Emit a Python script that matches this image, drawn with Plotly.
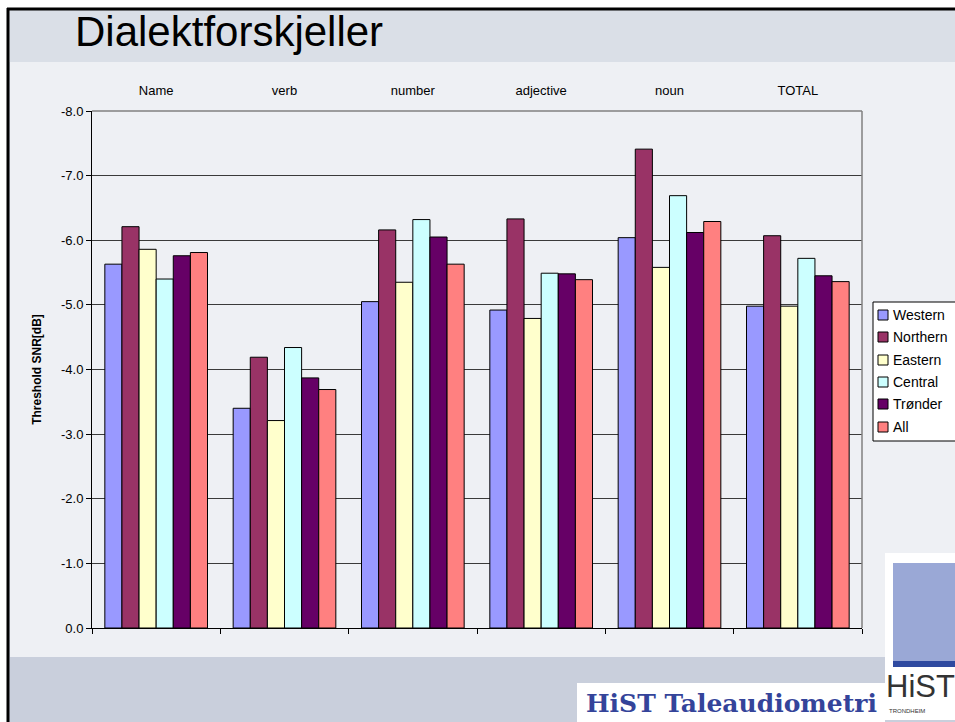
import plotly.graph_objects as go

categories = ["Name", "verb", "number", "adjective", "noun", "TOTAL"]
series_names = ["Western", "Northern", "Eastern", "Central", "Trønder", "All"]
western = [-5.63, -3.40, -5.05, -4.92, -6.04, -4.98]
northern = [-6.21, -4.19, -6.16, -6.33, -7.41, -6.07]
eastern = [-5.86, -3.21, -5.35, -4.79, -5.58, -4.98]
central = [-5.40, -4.34, -6.32, -5.49, -6.69, -5.72]
tronder = [-5.76, -3.87, -6.05, -5.48, -6.12, -5.45]
all_ = [-5.81, -3.69, -5.63, -5.39, -6.29, -5.36]
series_values = [western, northern, eastern, central, tronder, all_]
colors = ["#9999FF", "#993366", "#FFFFCC", "#CCFFFF", "#660066", "#FF8080"]
y_tickvals = [0, -1, -2, -3, -4, -5, -6, -7, -8]
y_ticktext = ["0.0", "-1.0", "-2.0", "-3.0", "-4.0", "-5.0", "-6.0", "-7.0", "-8.0"]

W, H = 955, 722
def px(x):
    return x / W
def py(y):
    return 1 - y / H

FONT = "Liberation Sans, Arial, sans-serif"

fig = go.Figure()
for name, vals, col in zip(series_names, series_values, colors):
    fig.add_trace(go.Bar(name=name, x=categories, y=vals, showlegend=False,
                         marker=dict(color=col, line=dict(color="black", width=1))))
fig.add_trace(go.Scatter(x=[0], y=[0], xaxis="x2", mode="markers",
                         marker=dict(opacity=0), showlegend=False, hoverinfo="skip"))

x0d, x1d = px(92), px(862)
y0d, y1d = py(628), py(111)

shapes = [
    # slide area
    dict(type="rect", xref="paper", yref="paper", x0=px(8), x1=1.0, y0=0, y1=py(9),
         fillcolor="#c9cfdc", line=dict(width=0), layer="below"),
    dict(type="rect", xref="paper", yref="paper", x0=px(9), x1=1.0, y0=py(62), y1=py(10),
         fillcolor="#dadfe7", line=dict(width=0), layer="below"),
    dict(type="rect", xref="paper", yref="paper", x0=px(10), x1=1.0, y0=py(657), y1=py(62),
         fillcolor="#eef0f4", line=dict(width=0), layer="below"),
    dict(type="line", xref="paper", yref="paper", x0=px(8), x1=px(8), y0=0, y1=py(8),
         line=dict(color="black", width=3), layer="below"),
    dict(type="line", xref="paper", yref="paper", x0=px(7), x1=1.0, y0=py(9), y1=py(9),
         line=dict(color="black", width=3), layer="below"),
    # plot area border (top / right)
    dict(type="line", xref="paper", yref="paper", x0=x0d, x1=x1d, y0=y1d, y1=y1d,
         line=dict(color="#808080", width=1.5)),
    dict(type="line", xref="paper", yref="paper", x0=x1d, x1=x1d, y0=y0d, y1=y1d,
         line=dict(color="#808080", width=1.5)),
    # logo box
    dict(type="rect", xref="paper", yref="paper", x0=px(885), x1=1.0, y0=py(720), y1=py(553),
         fillcolor="white", line=dict(width=0)),
    dict(type="rect", xref="paper", yref="paper", x0=px(893), x1=1.0, y0=py(662), y1=py(563),
         fillcolor="#9aa8d6", line=dict(width=0)),
    dict(type="rect", xref="paper", yref="paper", x0=px(893), x1=1.0, y0=py(667), y1=py(661),
         fillcolor="#2f4aa0", line=dict(width=0)),
    # HiST Taleaudiometri box
    dict(type="rect", xref="paper", yref="paper", x0=px(577), x1=px(885), y0=0, y1=py(683),
         fillcolor="white", line=dict(width=0)),
    # legend box
    dict(type="rect", xref="paper", yref="paper", x0=px(873), x1=px(960), y0=py(441), y1=py(302),
         fillcolor="white", line=dict(color="black", width=1)),
]

annotations = [
    dict(text="Dialektforskjeller", xref="paper", yref="paper", x=px(73), y=py(31),
         xanchor="left", yanchor="middle", showarrow=False,
         font=dict(family=FONT, size=42, color="black")),
    dict(text="HiST Taleaudiometri", xref="paper", yref="paper", x=px(731), y=py(703),
         xanchor="center", yanchor="middle", showarrow=False,
         font=dict(family="DejaVu Serif, serif", size=25, color="#34449a", weight="bold")),
    dict(text="HiST", xref="paper", yref="paper", x=px(884), y=py(686),
         xanchor="left", yanchor="middle", showarrow=False,
         font=dict(family=FONT, size=31, color="#333333")),
    dict(text="TRONDHEIM", xref="paper", yref="paper", x=px(887), y=py(711),
         xanchor="left", yanchor="middle", showarrow=False,
         font=dict(family=FONT, size=6, color="#333333")),
]

# legend entries (square swatch + label)
legend_rows = [315, 337, 360, 382, 404, 427]
for name, col, ry in zip(series_names, colors, legend_rows):
    shapes.append(dict(type="rect", xref="paper", yref="paper",
                       x0=px(878), x1=px(888), y0=py(ry + 5), y1=py(ry - 5),
                       fillcolor=col, line=dict(color="black", width=1)))
    annotations.append(dict(text=name, xref="paper", yref="paper", x=px(891), y=py(ry),
                            xanchor="left", yanchor="middle", showarrow=False,
                            font=dict(family=FONT, size=14, color="black")))

fig.update_layout(
    width=W, height=H,
    margin=dict(l=0, r=0, t=0, b=0, autoexpand=False),
    paper_bgcolor="white",
    plot_bgcolor="rgba(0,0,0,0)",
    barmode="group", bargap=0.2, bargroupgap=0,
    showlegend=False,
    font=dict(family=FONT, size=13, color="black"),
    xaxis=dict(domain=[x0d, x1d], side="top", type="category",
               categoryarray=categories, showline=False, ticks="",
               showgrid=False, ticklabelstandoff=12,
               tickfont=dict(family=FONT, size=13, color="black")),
    xaxis2=dict(domain=[x0d, x1d], overlaying="x", anchor="y", side="bottom",
                range=[-0.5, 5.5], tickvals=[-0.5, 0.5, 1.5, 2.5, 3.5, 4.5, 5.5],
                ticks="outside", ticklen=5, tickcolor="black", showticklabels=False,
                showline=True, linecolor="black", linewidth=1, showgrid=False,
                zeroline=False),
    yaxis=dict(domain=[y0d, y1d], range=[0, -8], tickvals=y_tickvals, ticktext=y_ticktext,
               ticks="outside", ticklen=5, tickcolor="black",
               showline=True, linecolor="black", linewidth=1,
               showgrid=True, gridcolor="#3a3a3a", gridwidth=1, zeroline=False,
               tickfont=dict(family=FONT, size=13, color="black"),
               title=dict(text="<b>Threshold SNR[dB]</b>", standoff=16,
                          font=dict(family=FONT, size=12, color="black"))),
    shapes=shapes,
    annotations=annotations,
)

fig.write_html("out.html", config={"displayModeBar": False},
               post_script="document.body.style.margin='0';")
